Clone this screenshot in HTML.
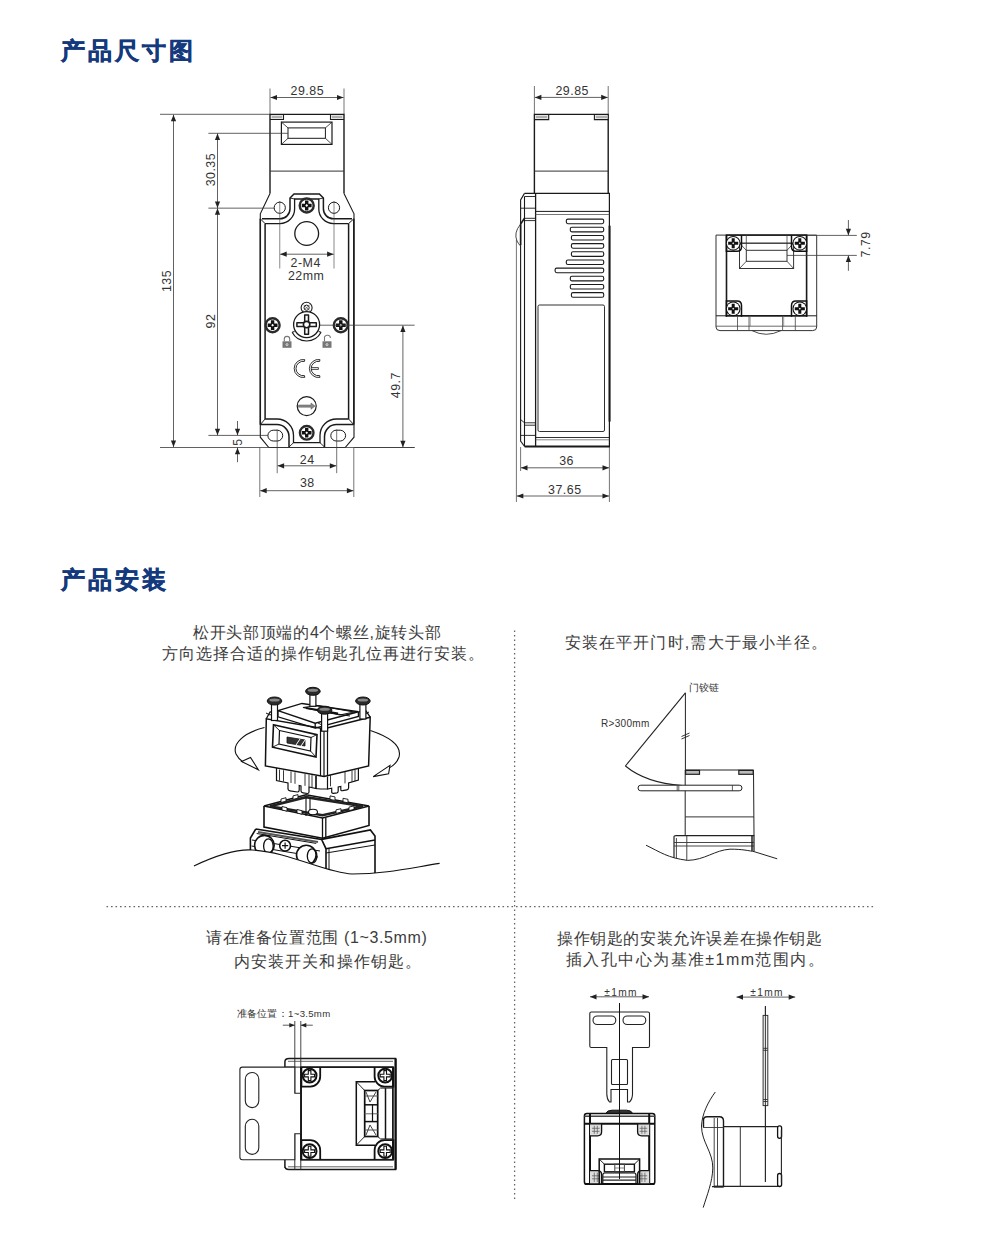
<!DOCTYPE html>
<html><head><meta charset="utf-8">
<style>
html,body{margin:0;padding:0;background:#fff;}
body{width:1000px;height:1236px;position:relative;overflow:hidden;font-family:"Liberation Sans",sans-serif;}
.h{position:absolute;left:61px;font-size:24px;font-weight:bold;color:#143a7d;-webkit-text-stroke:0.5px #143a7d;letter-spacing:3.1px;white-space:nowrap;line-height:1;}
.t{position:absolute;font-size:16px;color:#3c3c3c;letter-spacing:0.7px;white-space:nowrap;line-height:21px;}
svg{position:absolute;left:0;top:0;}
</style></head><body>
<div class="h" style="top:38.5px">产品尺寸图</div>
<div class="h" style="top:567.5px">产品安装</div>

<div class="t" style="left:193px;top:622px;letter-spacing:0.7px">松开头部顶端的4个螺丝,旋转头部</div>
<div class="t" style="left:162px;top:643px;letter-spacing:0.98px">方向选择合适的操作钥匙孔位再进行安装。</div>
<div class="t" style="left:564.5px;top:632px;letter-spacing:1.19px">安装在平开门时,需大于最小半径。</div>
<div class="t" style="left:206px;top:926.5px;letter-spacing:0.62px">请在准备位置范围 (1~3.5mm)</div>
<div class="t" style="left:234px;top:951px;letter-spacing:1.1px">内安装开关和操作钥匙。</div>
<div class="t" style="left:557px;top:927.5px;letter-spacing:0.6px">操作钥匙的安装允许误差在操作钥匙</div>
<div class="t" style="left:566px;top:949px;letter-spacing:1.42px">插入孔中心为基准±1mm范围内。</div>

<svg width="1000" height="1236" viewBox="0 0 1000 1236">
<defs>
<marker id="ar" viewBox="0 0 10 10" refX="10" refY="5" markerWidth="6" markerHeight="5" orient="auto-start-reverse" markerUnits="userSpaceOnUse"><path d="M0 0L10 5L0 10z" fill="#222"/></marker>
</defs>
<!-- dotted dividers -->
<g stroke="#666" stroke-width="1.3" stroke-dasharray="1.6 2.9" fill="none">
<line x1="106.5" y1="906.6" x2="875" y2="906.6"/>
<line x1="514.6" y1="630.5" x2="514.6" y2="1199"/>
</g>
<g font-family="Liberation Sans, sans-serif"><!--GEN-->
<path d="M270 193.5 V114.4 H344 V193.5" stroke="#1a1a1a" stroke-width="1.4" fill="none"/>
<line x1="270.00" y1="171.10" x2="344.00" y2="171.10" stroke="#333" stroke-width="1.0"/>
<path d="M270 119.5 H283.5 V114.4" stroke="#1a1a1a" stroke-width="1.1" fill="none"/>
<path d="M344 119.5 H330.5 V114.4" stroke="#1a1a1a" stroke-width="1.1" fill="none"/>
<rect x="271" y="115.2" width="11.8" height="3.6" fill="#ddd"/>
<rect x="331.2" y="115.2" width="11.8" height="3.6" fill="#ddd"/>
<line x1="272.00" y1="117.00" x2="282.00" y2="117.00" stroke="#444" stroke-width="0.6"/>
<line x1="332.00" y1="117.00" x2="342.00" y2="117.00" stroke="#444" stroke-width="0.6"/>
<rect x="281.40" y="122.10" width="50.60" height="22.30" rx="0" stroke="#1a1a1a" stroke-width="1.2" fill="none"/>
<rect x="288.00" y="127.90" width="37.40" height="10.40" rx="0" stroke="#1a1a1a" stroke-width="1.0" fill="none"/>
<line x1="281.40" y1="122.10" x2="288.00" y2="127.90" stroke="#222" stroke-width="0.8"/>
<line x1="332.00" y1="122.10" x2="325.40" y2="127.90" stroke="#222" stroke-width="0.8"/>
<line x1="281.40" y1="144.40" x2="288.00" y2="138.30" stroke="#222" stroke-width="0.8"/>
<line x1="332.00" y1="144.40" x2="325.40" y2="138.30" stroke="#222" stroke-width="0.8"/>
<path d="M270 193.5 L260.3 213.8 V437.2 L268.8 447.5 H345.2 L354 437.2 V213.8 L344 193.5" stroke="#1a1a1a" stroke-width="1.1" fill="none"/>
<path d="M262 218.8 H280 A10 10 0 0 0 290 208.8 V198 L294 194 H319.4 L323.4 198 V208.8 A10 10 0 0 0 333.4 218.8 H352" stroke="#1a1a1a" stroke-width="1.5" fill="none"/>
<path d="M265 223.6 H280 A14.6 14.6 0 0 0 294.6 209 V199 H318.8 V209 A14.6 14.6 0 0 0 333.4 223.6 H348.6" stroke="#1a1a1a" stroke-width="1.3" fill="none"/>
<path d="M260.3 218.8 V424.6" stroke="#1a1a1a" stroke-width="1.5" fill="none"/>
<path d="M265.1 223.6 V419" stroke="#1a1a1a" stroke-width="1.5" fill="none"/>
<path d="M353.8 218.8 V424.6" stroke="#1a1a1a" stroke-width="1.5" fill="none"/>
<path d="M348.6 223.6 V419" stroke="#1a1a1a" stroke-width="1.5" fill="none"/>
<line x1="260.30" y1="218.80" x2="265.10" y2="223.60" stroke="#1a1a1a" stroke-width="1.0"/>
<line x1="353.80" y1="218.80" x2="348.60" y2="223.60" stroke="#1a1a1a" stroke-width="1.0"/>
<line x1="290.00" y1="198.00" x2="294.60" y2="199.00" stroke="#1a1a1a" stroke-width="0.9"/>
<line x1="323.40" y1="198.00" x2="318.80" y2="199.00" stroke="#1a1a1a" stroke-width="0.9"/>
<path d="M260.3 424.6 H277 A12 12 0 0 1 289 436.6 V447.5" stroke="#1a1a1a" stroke-width="1.5" fill="none"/>
<path d="M265.1 419 H277 A16.5 16.5 0 0 1 293.5 435.5 V442.7 H320 V435.5 A16.5 16.5 0 0 1 336.5 419 H348.6" stroke="#1a1a1a" stroke-width="1.3" fill="none"/>
<path d="M353.8 424.6 H336.5 A12 12 0 0 0 324.5 436.6 V447.5" stroke="#1a1a1a" stroke-width="1.5" fill="none"/>
<line x1="260.30" y1="424.60" x2="265.10" y2="419.00" stroke="#1a1a1a" stroke-width="1.0"/>
<line x1="353.80" y1="424.60" x2="348.60" y2="419.00" stroke="#1a1a1a" stroke-width="1.0"/>
<line x1="289.00" y1="447.00" x2="293.50" y2="442.70" stroke="#1a1a1a" stroke-width="0.9"/>
<line x1="324.50" y1="447.00" x2="320.00" y2="442.70" stroke="#1a1a1a" stroke-width="0.9"/>
<circle cx="279.75" cy="207.75" r="5.60" stroke="#1a1a1a" stroke-width="1.0" fill="none"/>
<circle cx="334.00" cy="207.75" r="5.60" stroke="#1a1a1a" stroke-width="1.0" fill="none"/>
<rect x="267.9" y="430.2" width="14.8" height="10.8" rx="5.4" stroke="#1a1a1a" stroke-width="1.0" fill="none"/>
<rect x="330.8" y="430.2" width="14.8" height="10.8" rx="5.4" stroke="#1a1a1a" stroke-width="1.0" fill="none"/>
<circle cx="306.70" cy="205.50" r="7.00" stroke="#2a2a2a" stroke-width="2.4" fill="#fff"/>
<path d="M308.42 200.58 L308.42 203.78 L311.62 203.78 L311.62 207.22 L308.42 207.22 L308.42 210.42 L304.98 210.42 L304.98 207.22 L301.78 207.22 L301.78 203.78 L304.98 203.78 L304.98 200.58 Z" fill="#111"/>
<path d="M306.70 204.11 L308.09 205.50 L306.70 206.89 L305.31 205.50 Z" fill="#fff"/>
<circle cx="272.60" cy="325.20" r="7.00" stroke="#2a2a2a" stroke-width="2.4" fill="#fff"/>
<path d="M274.32 320.28 L274.32 323.48 L277.52 323.48 L277.52 326.92 L274.32 326.92 L274.32 330.12 L270.88 330.12 L270.88 326.92 L267.68 326.92 L267.68 323.48 L270.88 323.48 L270.88 320.28 Z" fill="#111"/>
<path d="M272.60 323.81 L273.99 325.20 L272.60 326.59 L271.21 325.20 Z" fill="#fff"/>
<circle cx="340.80" cy="325.20" r="7.00" stroke="#2a2a2a" stroke-width="2.4" fill="#fff"/>
<path d="M342.52 320.28 L342.52 323.48 L345.72 323.48 L345.72 326.92 L342.52 326.92 L342.52 330.12 L339.08 330.12 L339.08 326.92 L335.88 326.92 L335.88 323.48 L339.08 323.48 L339.08 320.28 Z" fill="#111"/>
<path d="M340.80 323.81 L342.19 325.20 L340.80 326.59 L339.41 325.20 Z" fill="#fff"/>
<circle cx="306.70" cy="432.80" r="6.80" stroke="#2a2a2a" stroke-width="2.4" fill="#fff"/>
<path d="M308.38 428.00 L308.38 431.12 L311.50 431.12 L311.50 434.48 L308.38 434.48 L308.38 437.60 L305.02 437.60 L305.02 434.48 L301.90 434.48 L301.90 431.12 L305.02 431.12 L305.02 428.00 Z" fill="#111"/>
<path d="M306.70 431.44 L308.06 432.80 L306.70 434.16 L305.34 432.80 Z" fill="#fff"/>
<circle cx="306.70" cy="233.50" r="11.90" stroke="#1a1a1a" stroke-width="1.3" fill="none"/>
<circle cx="306.60" cy="307.70" r="5.50" stroke="#1a1a1a" stroke-width="1.1" fill="none"/>
<circle cx="306.60" cy="307.70" r="2.60" stroke="#1a1a1a" stroke-width="1.0" fill="none"/>
<path d="M303.5 305 L309.7 310.4 M309.7 305 L303.5 310.4" stroke="#555" stroke-width="0.7" fill="none"/>
<path d="M321.08 332.30 A16.4 16.4 0 0 1 292.12 332.30" stroke="#1a1a1a" stroke-width="1.2" fill="none"/>
<path d="M292.12 332.30 L294.56 331.55 M321.08 332.30 L318.64 331.55" stroke="#1a1a1a" stroke-width="1.2" fill="none"/>
<circle cx="306.60" cy="324.60" r="13.00" stroke="#1a1a1a" stroke-width="1.3" fill="#fff"/>
<path d="M304.7 314.9 H308.5 V322.7 H316.3 V326.5 H308.5 V334.3 H304.7 V326.5 H296.9 V322.7 H304.7 Z" fill="#fff" stroke="#1a1a1a" stroke-width="1.5" stroke-linejoin="round"/>
<circle cx="306.60" cy="324.60" r="3.20" stroke="#1a1a1a" stroke-width="1.6" fill="#fff"/>
<rect x="282.5" y="341.3" width="9" height="6.5" fill="#777"/>
<path d="M284.3 341.3 V339.1 A2.7 2.7 0 0 1 289.7 339.1 V341.3" stroke="#777" stroke-width="1.1" fill="none"/>
<circle cx="287.00" cy="344.60" r="1.00" stroke="#fff" stroke-width="0.7" fill="#777"/>
<rect x="322.5" y="341.3" width="9" height="6.5" fill="#777"/>
<path d="M324.5 341.3 V338.8 A3 3 0 0 1 330.5 337.8" stroke="#777" stroke-width="1.1" fill="none"/>
<circle cx="327.00" cy="344.60" r="1.00" stroke="#fff" stroke-width="0.7" fill="#777"/>
<path d="M304.76 359.64 A9.00 9.00 0 1 0 304.76 377.36 L304.45 375.59 A7.20 7.20 0 1 1 304.45 361.41 Z" stroke="#1a1a1a" stroke-width="0.9" fill="none"/>
<path d="M319.96 359.64 A9.00 9.00 0 1 0 319.96 377.36 L319.65 375.59 A7.20 7.20 0 1 1 319.65 361.41 Z" stroke="#1a1a1a" stroke-width="0.9" fill="none"/>
<path d="M311.2 367.6 H318.4 V369.4 H311.2" stroke="#1a1a1a" stroke-width="0.8" fill="none"/>
<circle cx="306.70" cy="406.10" r="9.50" stroke="#1a1a1a" stroke-width="1.2" fill="none"/>
<path d="M298.5 405 H311 V403 L315 406.1 L311 409.2 V407.2 H298.5 Z" fill="#888" stroke="#555" stroke-width="0.5"/>
<line x1="270.00" y1="88.50" x2="270.00" y2="114.00" stroke="#3a3a3a" stroke-width="0.7"/>
<line x1="344.00" y1="88.50" x2="344.00" y2="114.00" stroke="#3a3a3a" stroke-width="0.7"/>
<line x1="270.50" y1="97.50" x2="343.50" y2="97.50" stroke="#3a3a3a" stroke-width="0.8"/>
<path d="M270.50 97.50 L277.00 94.90 L277.00 100.10 Z" fill="#222"/>
<path d="M343.50 97.50 L337.00 94.90 L337.00 100.10 Z" fill="#222"/>
<text x="307.30" y="95.20" font-size="12.4" fill="#333" text-anchor="middle" letter-spacing="0.5">29.85</text>
<line x1="160.00" y1="114.30" x2="270.00" y2="114.30" stroke="#3a3a3a" stroke-width="0.8"/>
<line x1="160.00" y1="447.50" x2="414.60" y2="447.50" stroke="#3a3a3a" stroke-width="0.8"/>
<line x1="173.50" y1="114.80" x2="173.50" y2="447.00" stroke="#3a3a3a" stroke-width="0.8"/>
<path d="M173.50 114.80 L170.90 121.30 L176.10 121.30 Z" fill="#222"/>
<path d="M173.50 447.00 L170.90 440.50 L176.10 440.50 Z" fill="#222"/>
<text x="171.20" y="281.00" font-size="12.4" fill="#333" text-anchor="middle" transform="rotate(-90 171.20 281.00)" letter-spacing="0.5">135</text>
<line x1="208.40" y1="133.30" x2="288.00" y2="133.30" stroke="#3a3a3a" stroke-width="0.8"/>
<line x1="208.40" y1="208.15" x2="274.00" y2="208.15" stroke="#3a3a3a" stroke-width="0.8"/>
<line x1="217.50" y1="133.50" x2="217.50" y2="208.00" stroke="#3a3a3a" stroke-width="0.8"/>
<path d="M217.50 133.50 L214.90 140.00 L220.10 140.00 Z" fill="#222"/>
<path d="M217.50 208.00 L214.90 201.50 L220.10 201.50 Z" fill="#222"/>
<text x="215.10" y="169.60" font-size="12.4" fill="#333" text-anchor="middle" transform="rotate(-90 215.10 169.60)" letter-spacing="0.5">30.35</text>
<line x1="217.50" y1="208.30" x2="217.50" y2="435.20" stroke="#3a3a3a" stroke-width="0.8"/>
<path d="M217.50 208.30 L214.90 214.80 L220.10 214.80 Z" fill="#222"/>
<path d="M217.50 435.20 L214.90 428.70 L220.10 428.70 Z" fill="#222"/>
<text x="215.10" y="321.00" font-size="12.4" fill="#333" text-anchor="middle" transform="rotate(-90 215.10 321.00)" letter-spacing="0.5">92</text>
<line x1="208.40" y1="435.40" x2="268.00" y2="435.40" stroke="#3a3a3a" stroke-width="0.8"/>
<line x1="237.50" y1="421.00" x2="237.50" y2="435.20" stroke="#3a3a3a" stroke-width="0.8"/>
<path d="M237.50 435.20 L234.90 428.70 L240.10 428.70 Z" fill="#222"/>
<line x1="237.50" y1="447.70" x2="237.50" y2="462.20" stroke="#3a3a3a" stroke-width="0.8"/>
<path d="M237.50 447.70 L234.90 454.20 L240.10 454.20 Z" fill="#222"/>
<text x="242.40" y="442.00" font-size="12.4" fill="#333" text-anchor="middle" transform="rotate(-90 242.40 442.00)" letter-spacing="0.5">5</text>
<line x1="279.75" y1="201.00" x2="279.75" y2="268.50" stroke="#3a3a3a" stroke-width="0.6"/>
<line x1="334.00" y1="201.00" x2="334.00" y2="268.50" stroke="#3a3a3a" stroke-width="0.6"/>
<line x1="280.20" y1="254.20" x2="333.60" y2="254.20" stroke="#3a3a3a" stroke-width="0.8"/>
<path d="M280.20 254.20 L286.70 251.60 L286.70 256.80 Z" fill="#222"/>
<path d="M333.60 254.20 L327.10 251.60 L327.10 256.80 Z" fill="#222"/>
<text x="305.70" y="267.20" font-size="12.4" fill="#333" text-anchor="middle" letter-spacing="0.5">2-M4</text>
<text x="306.20" y="280.20" font-size="12.4" fill="#333" text-anchor="middle" letter-spacing="0.5">22mm</text>
<line x1="320.00" y1="325.20" x2="414.60" y2="325.20" stroke="#3a3a3a" stroke-width="0.8"/>
<line x1="354.00" y1="447.50" x2="414.60" y2="447.50" stroke="#3a3a3a" stroke-width="0.8"/>
<line x1="402.90" y1="325.60" x2="402.90" y2="447.20" stroke="#3a3a3a" stroke-width="0.8"/>
<path d="M402.90 325.60 L400.30 332.10 L405.50 332.10 Z" fill="#222"/>
<path d="M402.90 447.20 L400.30 440.70 L405.50 440.70 Z" fill="#222"/>
<text x="400.30" y="385.20" font-size="12.4" fill="#333" text-anchor="middle" transform="rotate(-90 400.30 385.20)" letter-spacing="0.5">49.7</text>
<line x1="277.20" y1="429.50" x2="277.20" y2="473.20" stroke="#3a3a3a" stroke-width="0.7"/>
<line x1="336.70" y1="429.50" x2="336.70" y2="473.20" stroke="#3a3a3a" stroke-width="0.7"/>
<line x1="277.60" y1="465.80" x2="336.30" y2="465.80" stroke="#3a3a3a" stroke-width="0.8"/>
<path d="M277.60 465.80 L284.10 463.20 L284.10 468.40 Z" fill="#222"/>
<path d="M336.30 465.80 L329.80 463.20 L329.80 468.40 Z" fill="#222"/>
<text x="307.20" y="463.90" font-size="12.4" fill="#333" text-anchor="middle" letter-spacing="0.5">24</text>
<line x1="259.80" y1="447.50" x2="259.80" y2="497.00" stroke="#3a3a3a" stroke-width="0.7"/>
<line x1="353.80" y1="447.50" x2="353.80" y2="497.00" stroke="#3a3a3a" stroke-width="0.7"/>
<line x1="260.20" y1="490.70" x2="353.40" y2="490.70" stroke="#3a3a3a" stroke-width="0.8"/>
<path d="M260.20 490.70 L266.70 488.10 L266.70 493.30 Z" fill="#222"/>
<path d="M353.40 490.70 L346.90 488.10 L346.90 493.30 Z" fill="#222"/>
<text x="307.30" y="487.00" font-size="12.4" fill="#333" text-anchor="middle" letter-spacing="0.5">38</text>
<path d="M534.4 193.3 V114.4 H608.2 V193.3" stroke="#1a1a1a" stroke-width="1.4" fill="none"/>
<line x1="534.40" y1="171.10" x2="608.20" y2="171.10" stroke="#333" stroke-width="1.0"/>
<path d="M534.4 119.6 H548.7 V114.4" stroke="#1a1a1a" stroke-width="1.1" fill="none"/>
<path d="M608.2 119.6 H594.4 V114.4" stroke="#1a1a1a" stroke-width="1.1" fill="none"/>
<rect x="535.3" y="115.2" width="12.6" height="3.6" fill="#ddd"/>
<rect x="595.2" y="115.2" width="12.2" height="3.6" fill="#ddd"/>
<line x1="536.00" y1="117.00" x2="547.00" y2="117.00" stroke="#444" stroke-width="0.6"/>
<line x1="596.00" y1="117.00" x2="607.00" y2="117.00" stroke="#444" stroke-width="0.6"/>
<path d="M524.5 193.4 H609.4 V446.8 H524.6" stroke="#1a1a1a" stroke-width="1.2" fill="none"/>
<line x1="535.60" y1="193.40" x2="535.60" y2="446.80" stroke="#1a1a1a" stroke-width="1.3"/>
<line x1="609.60" y1="225.70" x2="609.60" y2="421.60" stroke="#1a1a1a" stroke-width="2.0"/>
<line x1="535.60" y1="211.40" x2="609.40" y2="211.40" stroke="#1a1a1a" stroke-width="1.0"/>
<line x1="535.60" y1="214.50" x2="609.40" y2="214.50" stroke="#555" stroke-width="0.8"/>
<rect x="566.30" y="219.10" width="37.40" height="4.60" rx="1.6" stroke="#1a1a1a" stroke-width="1.1" fill="none"/>
<rect x="570.30" y="227.27" width="33.40" height="4.60" rx="1.6" stroke="#1a1a1a" stroke-width="1.1" fill="none"/>
<rect x="571.40" y="235.44" width="32.30" height="4.60" rx="1.6" stroke="#1a1a1a" stroke-width="1.1" fill="none"/>
<rect x="571.40" y="243.61" width="32.30" height="4.60" rx="1.6" stroke="#1a1a1a" stroke-width="1.1" fill="none"/>
<rect x="571.40" y="251.78" width="32.30" height="4.60" rx="1.6" stroke="#1a1a1a" stroke-width="1.1" fill="none"/>
<rect x="566.30" y="259.95" width="37.40" height="4.60" rx="1.6" stroke="#1a1a1a" stroke-width="1.1" fill="none"/>
<rect x="555.10" y="268.12" width="48.60" height="4.60" rx="1.6" stroke="#1a1a1a" stroke-width="1.1" fill="none"/>
<rect x="570.30" y="276.29" width="33.40" height="4.60" rx="1.6" stroke="#1a1a1a" stroke-width="1.1" fill="none"/>
<rect x="570.30" y="284.46" width="33.40" height="4.60" rx="1.6" stroke="#1a1a1a" stroke-width="1.1" fill="none"/>
<rect x="571.40" y="292.63" width="32.30" height="4.60" rx="1.6" stroke="#1a1a1a" stroke-width="1.1" fill="none"/>
<rect x="538.00" y="305.00" width="66.50" height="126.50" rx="1.5" stroke="#1a1a1a" stroke-width="0.9" fill="none"/>
<line x1="535.60" y1="437.50" x2="609.40" y2="437.50" stroke="#1a1a1a" stroke-width="0.9"/>
<line x1="535.60" y1="439.80" x2="609.40" y2="439.80" stroke="#555" stroke-width="0.7"/>
<line x1="524.60" y1="446.30" x2="609.40" y2="446.30" stroke="#1a1a1a" stroke-width="1.6"/>
<path d="M524.5 193.4 L520.6 199.9 V441 L524.6 446.5" stroke="#1a1a1a" stroke-width="1.1" fill="none"/>
<line x1="524.50" y1="196.50" x2="524.50" y2="446.00" stroke="#1a1a1a" stroke-width="1.1"/>
<line x1="524.50" y1="196.50" x2="535.60" y2="196.50" stroke="#1a1a1a" stroke-width="0.9"/>
<line x1="520.60" y1="208.20" x2="535.60" y2="208.20" stroke="#1a1a1a" stroke-width="0.9"/>
<line x1="524.50" y1="218.30" x2="535.60" y2="218.30" stroke="#1a1a1a" stroke-width="0.9"/>
<line x1="524.50" y1="220.60" x2="535.60" y2="220.60" stroke="#1a1a1a" stroke-width="0.9"/>
<line x1="524.50" y1="422.80" x2="535.60" y2="422.80" stroke="#1a1a1a" stroke-width="0.9"/>
<line x1="524.50" y1="425.20" x2="535.60" y2="425.20" stroke="#1a1a1a" stroke-width="0.9"/>
<line x1="520.60" y1="435.40" x2="535.60" y2="435.40" stroke="#1a1a1a" stroke-width="0.9"/>
<path d="M524.5 218.3 L520.6 224 V245" stroke="#1a1a1a" stroke-width="1.6" fill="none"/>
<path d="M520.3 224.5 Q513.5 233 517 241 Q518.5 244 520.6 246" stroke="#333" stroke-width="0.9" fill="none"/>
<line x1="516.40" y1="240.00" x2="516.40" y2="502.00" stroke="#3a3a3a" stroke-width="0.7"/>
<path d="M520.6 419.5 L524.5 422.8" stroke="#1a1a1a" stroke-width="0.9" fill="none"/>
<line x1="534.40" y1="86.00" x2="534.40" y2="114.00" stroke="#3a3a3a" stroke-width="0.7"/>
<line x1="608.20" y1="86.00" x2="608.20" y2="114.00" stroke="#3a3a3a" stroke-width="0.7"/>
<line x1="534.90" y1="97.40" x2="607.70" y2="97.40" stroke="#3a3a3a" stroke-width="0.8"/>
<path d="M534.90 97.40 L541.40 94.80 L541.40 100.00 Z" fill="#222"/>
<path d="M607.70 97.40 L601.20 94.80 L601.20 100.00 Z" fill="#222"/>
<text x="572.20" y="95.00" font-size="12.4" fill="#333" text-anchor="middle" letter-spacing="0.5">29.85</text>
<line x1="520.60" y1="447.00" x2="520.60" y2="471.00" stroke="#3a3a3a" stroke-width="0.7"/>
<line x1="609.40" y1="447.00" x2="609.40" y2="502.00" stroke="#3a3a3a" stroke-width="0.7"/>
<line x1="521.00" y1="467.80" x2="609.00" y2="467.80" stroke="#3a3a3a" stroke-width="0.8"/>
<path d="M521.00 467.80 L527.50 465.20 L527.50 470.40 Z" fill="#222"/>
<path d="M609.00 467.80 L602.50 465.20 L602.50 470.40 Z" fill="#222"/>
<text x="566.60" y="465.20" font-size="12.4" fill="#333" text-anchor="middle" letter-spacing="0.5">36</text>
<line x1="516.80" y1="496.00" x2="609.00" y2="496.00" stroke="#3a3a3a" stroke-width="0.8"/>
<path d="M516.80 496.00 L523.30 493.40 L523.30 498.60 Z" fill="#222"/>
<path d="M609.00 496.00 L602.50 493.40 L602.50 498.60 Z" fill="#222"/>
<text x="564.80" y="493.80" font-size="12.4" fill="#333" text-anchor="middle" letter-spacing="0.5">37.65</text>
<path d="M716 235.1 V327 Q716 330.6 720 330.6 H812.7 Q816.7 330.6 816.7 327 V235.1 Z" stroke="#333" stroke-width="1.0" fill="none"/>
<rect x="726.50" y="235.10" width="80.10" height="80.70" rx="0" stroke="#1a1a1a" stroke-width="1.6" fill="none"/>
<line x1="716.00" y1="315.80" x2="816.70" y2="315.80" stroke="#1a1a1a" stroke-width="1.0"/>
<line x1="716.00" y1="326.20" x2="816.70" y2="326.20" stroke="#444" stroke-width="0.8"/>
<line x1="737.50" y1="315.80" x2="737.50" y2="330.60" stroke="#444" stroke-width="0.8"/>
<line x1="749.00" y1="315.80" x2="749.00" y2="330.60" stroke="#444" stroke-width="0.8"/>
<line x1="782.60" y1="315.80" x2="782.60" y2="330.60" stroke="#444" stroke-width="0.8"/>
<line x1="795.30" y1="315.80" x2="795.30" y2="330.60" stroke="#444" stroke-width="0.8"/>
<line x1="750.20" y1="315.80" x2="750.20" y2="326.20" stroke="#666" stroke-width="0.6"/>
<line x1="783.70" y1="315.80" x2="783.70" y2="326.20" stroke="#666" stroke-width="0.6"/>
<path d="M752 330.6 Q766 338 781 330.6" stroke="#333" stroke-width="0.9" fill="none"/>
<line x1="746.30" y1="235.10" x2="746.30" y2="250.30" stroke="#444" stroke-width="0.8"/>
<line x1="787.00" y1="235.10" x2="787.00" y2="250.30" stroke="#444" stroke-width="0.8"/>
<line x1="739.50" y1="243.20" x2="793.60" y2="243.20" stroke="#333" stroke-width="0.9"/>
<rect x="739.50" y="243.20" width="54.10" height="25.30" rx="0" stroke="#333" stroke-width="1.0" fill="none"/>
<rect x="746.30" y="250.30" width="40.70" height="11.00" rx="0" stroke="#333" stroke-width="1.0" fill="none"/>
<line x1="739.50" y1="243.20" x2="746.30" y2="250.30" stroke="#333" stroke-width="0.8"/>
<line x1="793.60" y1="243.20" x2="787.00" y2="250.30" stroke="#333" stroke-width="0.8"/>
<line x1="739.50" y1="268.50" x2="746.30" y2="261.30" stroke="#333" stroke-width="0.8"/>
<line x1="793.60" y1="268.50" x2="787.00" y2="261.30" stroke="#333" stroke-width="0.8"/>
<path d="M726.4 235.3 V251.2 H737.0 Q741.5 251.2 741.5 246.7 V235.3" fill="none" stroke="#111" stroke-width="1.5"/>
<circle cx="733.2" cy="243.3" r="6.5" fill="#fff" stroke="#111" stroke-width="1.7"/>
<circle cx="733.20" cy="243.30" r="6.29" stroke="#2a2a2a" stroke-width="0.01" fill="#fff"/>
<path d="M734.71 238.26 L734.71 241.79 L738.24 241.79 L738.24 244.81 L734.71 244.81 L734.71 248.34 L731.69 248.34 L731.69 244.81 L728.16 244.81 L728.16 241.79 L731.69 241.79 L731.69 238.26 Z" fill="#111"/>
<path d="M733.20 242.23 L734.27 243.30 L733.20 244.37 L732.13 243.30 Z" fill="#fff"/>
<path d="M806.6 235.3 V251.2 H796.0 Q791.5 251.2 791.5 246.7 V235.3" fill="none" stroke="#111" stroke-width="1.5"/>
<circle cx="799.8" cy="243.3" r="6.5" fill="#fff" stroke="#111" stroke-width="1.7"/>
<circle cx="799.80" cy="243.30" r="6.29" stroke="#2a2a2a" stroke-width="0.01" fill="#fff"/>
<path d="M801.31 238.26 L801.31 241.79 L804.84 241.79 L804.84 244.81 L801.31 244.81 L801.31 248.34 L798.29 248.34 L798.29 244.81 L794.76 244.81 L794.76 241.79 L798.29 241.79 L798.29 238.26 Z" fill="#111"/>
<path d="M799.80 242.23 L800.87 243.30 L799.80 244.37 L798.73 243.30 Z" fill="#fff"/>
<path d="M726.4 316.8 V300.9 H737.0 Q741.5 300.9 741.5 305.4 V316.8" fill="none" stroke="#111" stroke-width="1.5"/>
<circle cx="733.2" cy="308.8" r="6.5" fill="#fff" stroke="#111" stroke-width="1.7"/>
<circle cx="733.20" cy="308.80" r="6.29" stroke="#2a2a2a" stroke-width="0.01" fill="#fff"/>
<path d="M734.71 303.76 L734.71 307.29 L738.24 307.29 L738.24 310.31 L734.71 310.31 L734.71 313.84 L731.69 313.84 L731.69 310.31 L728.16 310.31 L728.16 307.29 L731.69 307.29 L731.69 303.76 Z" fill="#111"/>
<path d="M733.20 307.73 L734.27 308.80 L733.20 309.87 L732.13 308.80 Z" fill="#fff"/>
<path d="M806.6 316.8 V300.9 H796.0 Q791.5 300.9 791.5 305.4 V316.8" fill="none" stroke="#111" stroke-width="1.5"/>
<circle cx="799.8" cy="308.8" r="6.5" fill="#fff" stroke="#111" stroke-width="1.7"/>
<circle cx="799.80" cy="308.80" r="6.29" stroke="#2a2a2a" stroke-width="0.01" fill="#fff"/>
<path d="M801.31 303.76 L801.31 307.29 L804.84 307.29 L804.84 310.31 L801.31 310.31 L801.31 313.84 L798.29 313.84 L798.29 310.31 L794.76 310.31 L794.76 307.29 L798.29 307.29 L798.29 303.76 Z" fill="#111"/>
<path d="M799.80 307.73 L800.87 308.80 L799.80 309.87 L798.73 308.80 Z" fill="#fff"/>
<line x1="806.60" y1="235.40" x2="856.80" y2="235.40" stroke="#3a3a3a" stroke-width="0.8"/>
<line x1="787.00" y1="255.40" x2="856.80" y2="255.40" stroke="#3a3a3a" stroke-width="0.8"/>
<line x1="848.40" y1="220.00" x2="848.40" y2="235.20" stroke="#3a3a3a" stroke-width="0.8"/>
<path d="M848.40 235.20 L845.80 228.70 L851.00 228.70 Z" fill="#222"/>
<line x1="848.40" y1="255.60" x2="848.40" y2="270.80" stroke="#3a3a3a" stroke-width="0.8"/>
<path d="M848.40 255.60 L845.80 262.10 L851.00 262.10 Z" fill="#222"/>
<text x="869.60" y="244.40" font-size="12.4" fill="#333" text-anchor="middle" transform="rotate(-90 869.60 244.40)" letter-spacing="0.5">7.79</text>
<path d="M264.5 727.5 C243 733 232 744 236 754 C238 758 240 760 243 762" stroke="#111" stroke-width="1.1" fill="none"/>
<path d="M241.6 761.5 L258.4 769.8 L250.5 757.5 Z" stroke="#111" stroke-width="1.1" fill="#fff"/>
<path d="M370.4 730.4 C390 737 402 746 399 757 C397 763 392 767 386 769.5" stroke="#111" stroke-width="1.1" fill="none"/>
<path d="M373.2 776.6 L390 765.4 L388.6 773.8 Z" stroke="#111" stroke-width="1.1" fill="#fff"/>
<path d="M276.5 768 V780.5 L288 783 V789 Q288 790.5 290 790.8 L297.5 792 Q299.2 792 299.2 790 V785.5 L301 786 V791 Q301 792.5 303 792.8 L307.5 793.5 Q309 793.5 309 792 V787 L316 788.5 V776" stroke="#111" stroke-width="1.2" fill="#fff"/>
<path d="M327.5 776.5 V789 L331.7 788.2 V792 Q331.7 793.5 333.5 793.3 L337 792.8 Q338.2 792.5 338.2 791 V787 L340.8 786.4 V789.5 Q340.8 791 342.5 790.7 L347 789.8 Q348.6 789.5 348.6 788 V783 L358.4 780 V768.5" stroke="#111" stroke-width="1.2" fill="#fff"/>
<path d="M316 776 V788.5 L320.5 789 H327.5" stroke="#111" stroke-width="1.2" fill="none"/>
<line x1="279.50" y1="769.60" x2="279.50" y2="780.70" stroke="#222" stroke-width="0.9"/>
<line x1="283.50" y1="770.27" x2="283.50" y2="781.50" stroke="#222" stroke-width="0.9"/>
<line x1="291.00" y1="771.55" x2="291.00" y2="783.00" stroke="#222" stroke-width="0.9"/>
<line x1="295.00" y1="772.23" x2="295.00" y2="783.80" stroke="#222" stroke-width="0.9"/>
<line x1="305.00" y1="773.93" x2="305.00" y2="785.80" stroke="#222" stroke-width="0.9"/>
<line x1="309.00" y1="774.61" x2="309.00" y2="786.60" stroke="#222" stroke-width="0.9"/>
<line x1="312.00" y1="775.12" x2="312.00" y2="787.20" stroke="#222" stroke-width="0.9"/>
<line x1="330.50" y1="775.23" x2="330.50" y2="786.30" stroke="#222" stroke-width="0.9"/>
<line x1="345.00" y1="772.04" x2="345.00" y2="783.40" stroke="#222" stroke-width="0.9"/>
<line x1="352.00" y1="770.50" x2="352.00" y2="782.00" stroke="#222" stroke-width="0.9"/>
<line x1="355.00" y1="769.84" x2="355.00" y2="781.40" stroke="#222" stroke-width="0.9"/>
<path d="M266.3 718.8 L265.4 765.9 L324 776.6 L368.6 765.9 L370.2 717.2 L324 728.7 Z" stroke="#111" stroke-width="1.5" fill="#fff"/>
<path d="M324 728.7 V776.6 M320.5 728 V776 M327.5 728 V776" stroke="#111" stroke-width="1.2" fill="none"/>
<path d="M266.3 718.8 L270 712 L278 710.6 M370.2 717.2 L366 711 L358.4 711.8" stroke="#111" stroke-width="1.3" fill="none"/>
<path d="M278 710.6 L302 703.4 L358.4 711.8 L315.2 723.2 Z" stroke="#111" stroke-width="1.5" fill="#fff"/>
<path d="M278 710.6 V716.8 L315.2 728.2 V723.2 M315.2 728.2 L358.4 716.5 V711.8" stroke="#111" stroke-width="1.3" fill="none"/>
<path d="M303 707.5 L318 705.5 L354 712 L340 715 Z" stroke="#111" stroke-width="1.1" fill="none"/>
<path d="M306 708 L338 713.5" stroke="#111" stroke-width="2.2" fill="none"/>
<path d="M318 711 L350 716" stroke="#111" stroke-width="1.0" fill="none"/>
<path d="M273.5 724.8 L317 734.6 L316 757 L272.5 747.2 Z" stroke="#111" stroke-width="1.6" fill="#fff"/>
<path d="M279.5 730.5 L311 737.5 L310.5 751 L279 744 Z" stroke="#111" stroke-width="1.2" fill="none"/>
<path d="M273.5 724.8 L279.5 730.5 M317 734.6 L311 737.5 M272.5 747.2 L279 744 M316 757 L310.5 751" stroke="#111" stroke-width="0.9" fill="none"/>
<path d="M287 737 L305 740 V746 L287 743 Z" stroke="#111" stroke-width="0.8" fill="#333"/>
<path d="M296 745 L300 739 M301 746 L305 740" stroke="#fff" stroke-width="1.0" fill="none"/>
<path d="M266.0 713.0 l4 2 l4 -2" stroke="#111" stroke-width="1.0" fill="none"/>
<path d="M361.0 712.0 l4 2 l4 -2" stroke="#111" stroke-width="1.0" fill="none"/>
<path d="M318.0 723.0 l4 2 l4 -2" stroke="#111" stroke-width="1.0" fill="none"/>
<rect x="309.9" y="693.3" width="6" height="13.0" fill="#fff" stroke="#111" stroke-width="1.2"/>
<ellipse cx="312.9" cy="691.3" rx="7.3" ry="4" fill="#2a2a2a" stroke="#111" stroke-width="1"/>
<ellipse cx="312.9" cy="690.3" rx="5.2" ry="1.5" fill="#888"/>
<rect x="271.5" y="703.0" width="6" height="17.5" fill="#fff" stroke="#111" stroke-width="1.2"/>
<ellipse cx="274.5" cy="701.0" rx="7.3" ry="4" fill="#2a2a2a" stroke="#111" stroke-width="1"/>
<ellipse cx="274.5" cy="700.0" rx="5.2" ry="1.5" fill="#888"/>
<rect x="359.9" y="703.0" width="6" height="16.0" fill="#fff" stroke="#111" stroke-width="1.2"/>
<ellipse cx="362.9" cy="701.0" rx="7.3" ry="4" fill="#2a2a2a" stroke="#111" stroke-width="1"/>
<ellipse cx="362.9" cy="700.0" rx="5.2" ry="1.5" fill="#888"/>
<rect x="321.6" y="712.2" width="6" height="19.0" fill="#fff" stroke="#111" stroke-width="1.2"/>
<ellipse cx="324.6" cy="710.2" rx="7.3" ry="4" fill="#2a2a2a" stroke="#111" stroke-width="1"/>
<ellipse cx="324.6" cy="709.2" rx="5.2" ry="1.5" fill="#888"/>
<path d="M255.8 829 L250.4 838 V866 M255.8 829 L321.6 839.4 L326 848.8 V876 M321.6 839.4 L370.4 830 L375 836 V876 M326 848.8 L375 840" stroke="#111" stroke-width="1.6" fill="none"/>
<path d="M256.7 833.5 L316.2 843.4 M252 840 L320 851 M251.5 846 L318 857" stroke="#111" stroke-width="1.0" fill="none"/>
<path d="M258 832 L318 842" stroke="#555" stroke-width="2.2" fill="none"/>
<path d="M329 849 V876 M326 853 L375 845" stroke="#111" stroke-width="1.0" fill="none"/>
<circle cx="264.4" cy="845.2" r="9.8" stroke="#111" stroke-width="1.6" fill="#fff"/>
<ellipse cx="268.4" cy="846.0" rx="4.8" ry="7.2" stroke="#111" stroke-width="1.3" fill="none"/>
<circle cx="306.3" cy="855.1" r="9.8" stroke="#111" stroke-width="1.6" fill="#fff"/>
<ellipse cx="312.1" cy="856.0" rx="4.8" ry="7.2" stroke="#111" stroke-width="1.3" fill="none"/>
<circle cx="285.1" cy="845.7" r="5.4" stroke="#111" stroke-width="1.6" fill="#fff"/>
<path d="M282 845.7 H288.2 M285.1 842.6 V848.8" stroke="#111" stroke-width="1.2" fill="none"/>
<path d="M264 806 V827 L322.5 838.2 L369 825.5 V806" stroke="#111" stroke-width="1.6" fill="#fff"/>
<path d="M322.5 818 V838.2 M325.8 817.5 V837.5" stroke="#111" stroke-width="1.3" fill="none"/>
<path d="M264 806 L306 794.7 L369 806 L322.5 818 Z" stroke="#111" stroke-width="1.6" fill="#fff"/>
<path d="M270 806.3 L306 797.2 L363 806.3 L322.5 815.2 Z" stroke="#222" stroke-width="2.6" fill="none"/>
<path d="M281.0 802.5 l5.0 -1.3 v-3.5 l-5.0 1.3 z" fill="#fff" stroke="#111" stroke-width="0.9"/>
<path d="M293.0 799.4 l5.0 -1.3 v-3.5 l-5.0 1.3 z" fill="#fff" stroke="#111" stroke-width="0.9"/>
<path d="M330.0 799.4 l5.0 1.0 v-3.5 l-5.0 -1.0 z" fill="#fff" stroke="#111" stroke-width="0.9"/>
<path d="M343.0 801.8 l5.0 1.0 v-3.5 l-5.0 -1.0 z" fill="#fff" stroke="#111" stroke-width="0.9"/>
<path d="M282.0 810.0 l5.0 1.2 v-3.5 l-5.0 -1.2 z" fill="#fff" stroke="#111" stroke-width="0.9"/>
<path d="M297.0 813.0 l5.0 1.2 v-3.5 l-5.0 -1.2 z" fill="#fff" stroke="#111" stroke-width="0.9"/>
<path d="M336.0 813.4 l5.0 -1.2 v-3.5 l-5.0 1.2 z" fill="#fff" stroke="#111" stroke-width="0.9"/>
<path d="M349.0 810.6 l5.0 -1.2 v-3.5 l-5.0 1.2 z" fill="#fff" stroke="#111" stroke-width="0.9"/>
<path d="M306 797.2 V816 M310 797.8 V815.5" stroke="#111" stroke-width="1.1" fill="none"/>
<ellipse cx="313" cy="812" rx="4.5" ry="2.8" fill="#fff" stroke="#111" stroke-width="1.1"/>
<path d="M193.9 866 C215 856 235 849 252 850 C290 852 325 873 352 874 C385 874 410 868 439.6 863.4 V890 H193.9 Z" stroke="none" stroke-width="0" fill="#fff"/>
<path d="M193.9 866 C215 856 235 849 252 850 C290 852 325 873 352 874 C385 874 410 868 439.6 863.4" stroke="#111" stroke-width="1.1" fill="none"/>
<text x="601.00" y="727.20" font-size="10" fill="#333" text-anchor="start" letter-spacing="0.3">R&gt;300mm</text>
<text x="688.6" y="690.6" font-size="10" fill="#333" letter-spacing="0.3">门铰链</text>
<line x1="685.40" y1="692.80" x2="685.40" y2="770.00" stroke="#222" stroke-width="1.0"/>
<path d="M681.5 736.5 L689.5 733 M681.5 739 L689.5 735.5" stroke="#222" stroke-width="0.9" fill="none"/>
<line x1="685.40" y1="692.80" x2="625.40" y2="766.00" stroke="#222" stroke-width="1.1"/>
<path d="M625.4 766 C640 778 660 784 682 785.5" stroke="#222" stroke-width="1.1" fill="none"/>
<path d="M685.2 835.6 L685.2 770 H753.5 L754 835.6" stroke="#222" stroke-width="1.0" fill="none"/>
<rect x="685.60" y="770.40" width="13.90" height="3.90" rx="0" stroke="#222" stroke-width="1.2" fill="#bbb"/>
<rect x="738.80" y="770.40" width="14.40" height="3.90" rx="0" stroke="#222" stroke-width="1.2" fill="#bbb"/>
<line x1="685.20" y1="816.90" x2="754.00" y2="816.90" stroke="#333" stroke-width="1.0"/>
<rect x="638" y="785.2" width="104" height="5.6" rx="2.8" fill="#fff" stroke="#222" stroke-width="1"/>
<line x1="677.20" y1="785.20" x2="677.20" y2="790.80" stroke="#333" stroke-width="0.8"/>
<line x1="678.80" y1="785.20" x2="678.80" y2="790.80" stroke="#333" stroke-width="0.8"/>
<line x1="732.40" y1="785.20" x2="732.40" y2="790.80" stroke="#333" stroke-width="0.8"/>
<path d="M674 860 V836.5 Q674 835.6 676 835.6 H754 V851.6" stroke="#222" stroke-width="1.2" fill="none"/>
<line x1="676.40" y1="838.00" x2="676.40" y2="860.00" stroke="#333" stroke-width="0.9"/>
<line x1="686.80" y1="835.60" x2="686.80" y2="861.00" stroke="#333" stroke-width="0.9"/>
<line x1="674.00" y1="842.50" x2="754.00" y2="842.50" stroke="#333" stroke-width="0.9"/>
<line x1="674.00" y1="846.00" x2="754.00" y2="846.00" stroke="#333" stroke-width="0.9"/>
<line x1="752.00" y1="836.00" x2="752.00" y2="851.00" stroke="#222" stroke-width="1.5"/>
<path d="M646 845.2 C660 852 668 858 687.6 860.4 C705 860 715 850 730 849.2 C742 849 750 851 754 851.6 L777.2 858.8" stroke="none" stroke-width="0" fill="none"/>
<path d="M646 845.2 C660 852 668 858 687.6 860.4 C705 860 715 850 730 849.2 C742 849 750 851 754 851.6 L777.2 858.8 V870 H646 Z" fill="#fff"/>
<path d="M646 845.2 C660 852 668 858 687.6 860.4 C705 860 715 850 730 849.2 C742 849 750 851 754 851.6 L777.2 858.8" stroke="#222" stroke-width="1.0" fill="none"/>
<text x="236.6" y="1016.6" font-size="9.6" fill="#333" letter-spacing="0.3">准备位置：1~3.5mm</text>
<line x1="294.80" y1="1021.00" x2="294.80" y2="1160.00" stroke="#333" stroke-width="0.9"/>
<line x1="300.80" y1="1021.00" x2="300.80" y2="1062.00" stroke="#333" stroke-width="0.9"/>
<line x1="282.80" y1="1025.20" x2="294.80" y2="1025.20" stroke="#333" stroke-width="0.8"/>
<path d="M294.80 1025.20 L289.30 1023.00 L289.30 1027.40 Z" fill="#222"/>
<line x1="300.80" y1="1025.20" x2="312.80" y2="1025.20" stroke="#333" stroke-width="0.8"/>
<path d="M300.80 1025.20 L306.30 1023.00 L306.30 1027.40 Z" fill="#222"/>
<path d="M284.9 1168 V1062 Q284.9 1058.6 289 1058.6 H395.6 V1169.5 H289 Q284.9 1169.5 284.9 1166" stroke="#1a1a1a" stroke-width="1.5" fill="#fff"/>
<line x1="288.00" y1="1061.30" x2="393.00" y2="1061.30" stroke="#555" stroke-width="0.9"/>
<line x1="288.00" y1="1166.80" x2="393.00" y2="1166.80" stroke="#555" stroke-width="0.9"/>
<line x1="395.60" y1="1058.60" x2="395.60" y2="1169.50" stroke="#111" stroke-width="2.2"/>
<line x1="284.90" y1="1067.10" x2="301.10" y2="1067.10" stroke="#222" stroke-width="1.0"/>
<rect x="301.10" y="1067.10" width="91.80" height="92.70" rx="0" stroke="#1a1a1a" stroke-width="1.8" fill="none"/>
<line x1="294.80" y1="1058.60" x2="294.80" y2="1169.50" stroke="#333" stroke-width="1.0"/>
<line x1="300.80" y1="1058.60" x2="300.80" y2="1169.50" stroke="#333" stroke-width="1.0"/>
<path d="M294.8 1067.1 H242.4 Q239.9 1067.1 239.9 1069.6 V1157.3 Q239.9 1159.8 242.4 1159.8 H294.8 V1133.7 H300.8 V1093.2 H294.8 Z" stroke="#222" stroke-width="1.1" fill="#fff"/>
<rect x="245.3" y="1072.5" width="13.5" height="35.1" rx="6.75" fill="none" stroke="#222" stroke-width="1.1"/>
<rect x="245.3" y="1119.3" width="13.5" height="35.1" rx="6.75" fill="none" stroke="#222" stroke-width="1.1"/>
<line x1="301.10" y1="1067.10" x2="301.10" y2="1159.80" stroke="#1a1a1a" stroke-width="1.8"/>
<path d="M301.4 1067.0 V1086.6 H310.2 A10 10 0 0 0 320.2 1076.6 V1067.0" fill="none" stroke="#111" stroke-width="1.8"/>
<circle cx="309.6" cy="1075.6" r="6.9" fill="#fff" stroke="#111" stroke-width="2"/>
<path d="M310.90 1070.60 L310.90 1074.30 L314.60 1074.30 L314.60 1076.90 L310.90 1076.90 L310.90 1080.60 L308.30 1080.60 L308.30 1076.90 L304.60 1076.90 L304.60 1074.30 L308.30 1074.30 L308.30 1070.60 Z" fill="#fff" stroke="#111" stroke-width="1.1"/>
<path d="M393.4 1067.0 V1086.6 H384.6 A10 10 0 0 1 374.6 1076.6 V1067.0" fill="none" stroke="#111" stroke-width="1.8"/>
<circle cx="385.2" cy="1075.6" r="6.9" fill="#fff" stroke="#111" stroke-width="2"/>
<path d="M386.50 1070.60 L386.50 1074.30 L390.20 1074.30 L390.20 1076.90 L386.50 1076.90 L386.50 1080.60 L383.90 1080.60 L383.90 1076.90 L380.20 1076.90 L380.20 1074.30 L383.90 1074.30 L383.90 1070.60 Z" fill="#fff" stroke="#111" stroke-width="1.1"/>
<path d="M301.4 1159.8 V1140.2 H310.2 A10 10 0 0 1 320.2 1150.2 V1159.8" fill="none" stroke="#111" stroke-width="1.8"/>
<circle cx="309.6" cy="1151.2" r="6.9" fill="#fff" stroke="#111" stroke-width="2"/>
<path d="M310.90 1146.20 L310.90 1149.90 L314.60 1149.90 L314.60 1152.50 L310.90 1152.50 L310.90 1156.20 L308.30 1156.20 L308.30 1152.50 L304.60 1152.50 L304.60 1149.90 L308.30 1149.90 L308.30 1146.20 Z" fill="#fff" stroke="#111" stroke-width="1.1"/>
<path d="M393.4 1159.8 V1140.2 H384.6 A10 10 0 0 0 374.6 1150.2 V1159.8" fill="none" stroke="#111" stroke-width="1.8"/>
<circle cx="385.2" cy="1151.2" r="6.9" fill="#fff" stroke="#111" stroke-width="2"/>
<path d="M386.50 1146.20 L386.50 1149.90 L390.20 1149.90 L390.20 1152.50 L386.50 1152.50 L386.50 1156.20 L383.90 1156.20 L383.90 1152.50 L380.20 1152.50 L380.20 1149.90 L383.90 1149.90 L383.90 1146.20 Z" fill="#fff" stroke="#111" stroke-width="1.1"/>
<path d="M375 1081.8 H356.3 V1145.2 H375" stroke="#111" stroke-width="1.5" fill="none"/>
<rect x="364.70" y="1090.50" width="13.00" height="46.00" rx="0" stroke="#111" stroke-width="1.7" fill="none"/>
<path d="M356.3 1081.8 L364.7 1090.5 M356.3 1145.2 L364.7 1136.5 M377.7 1090.5 L380.6 1088 M377.7 1136.5 L380.6 1139" stroke="#222" stroke-width="1.0" fill="none"/>
<line x1="385.50" y1="1088.00" x2="385.50" y2="1139.00" stroke="#111" stroke-width="1.5"/>
<line x1="380.60" y1="1088.00" x2="392.90" y2="1088.00" stroke="#222" stroke-width="1.2"/>
<line x1="380.60" y1="1139.00" x2="392.90" y2="1139.00" stroke="#222" stroke-width="1.2"/>
<line x1="364.70" y1="1104.80" x2="377.70" y2="1104.80" stroke="#111" stroke-width="1.5"/>
<line x1="364.70" y1="1113.80" x2="377.70" y2="1113.80" stroke="#666" stroke-width="1.0"/>
<line x1="364.70" y1="1121.60" x2="377.70" y2="1121.60" stroke="#111" stroke-width="1.5"/>
<line x1="372.50" y1="1104.80" x2="372.50" y2="1121.60" stroke="#111" stroke-width="1.2"/>
<line x1="364.70" y1="1096.00" x2="377.70" y2="1096.00" stroke="#555" stroke-width="1.0"/>
<line x1="364.70" y1="1130.00" x2="377.70" y2="1130.00" stroke="#555" stroke-width="1.0"/>
<path d="M366 1092 L370 1102 L376 1092 M366 1135 L370 1125 L376 1135" stroke="#444" stroke-width="1.0" fill="none"/>
<text x="604.30" y="995.60" font-size="10.2" fill="#333" text-anchor="start" letter-spacing="1.3">±1mm</text>
<line x1="590.00" y1="996.80" x2="649.00" y2="996.80" stroke="#3a3a3a" stroke-width="0.8"/>
<path d="M590.00 996.80 L596.50 994.20 L596.50 999.40 Z" fill="#222"/>
<path d="M649.00 996.80 L642.50 994.20 L642.50 999.40 Z" fill="#222"/>
<line x1="619.50" y1="1003.00" x2="619.50" y2="1180.00" stroke="#111" stroke-width="1.0"/>
<path d="M606.8 1047.5 H591.3 Q589.8 1047.5 589.8 1046 V1013.5 Q589.8 1012 591.3 1012 H648 Q649.5 1012 649.5 1013.5 V1046 Q649.5 1047.5 648 1047.5 H632.5 V1094 Q632.5 1099 629.5 1102 L627.5 1102 V1089.5 H611 V1102 L609.5 1102 Q606.8 1099 606.8 1094 Z" stroke="#222" stroke-width="1.1" fill="#fff"/>
<line x1="619.50" y1="1003.00" x2="619.50" y2="1180.00" stroke="#111" stroke-width="1.0"/>
<rect x="593" y="1016" width="22.8" height="8.5" rx="4.25" fill="none" stroke="#222" stroke-width="1.1"/>
<rect x="623" y="1016" width="22.8" height="8.5" rx="4.25" fill="none" stroke="#222" stroke-width="1.1"/>
<rect x="611.50" y="1059.50" width="16.00" height="25.00" rx="1" stroke="#222" stroke-width="1.1" fill="none"/>
<path d="M605.6 1113.6 Q607 1110.2 612 1110.2 H626.5 Q631.5 1110.2 632.8 1113.6 Z" fill="#333" stroke="#111" stroke-width="1"/>
<rect x="584.4" y="1113.4" width="70.4" height="70.8" rx="2.5" fill="#fff" stroke="#111" stroke-width="1.5"/>
<line x1="584.40" y1="1116.20" x2="654.80" y2="1116.20" stroke="#444" stroke-width="1.6"/>
<line x1="584.40" y1="1123.80" x2="654.80" y2="1123.80" stroke="#111" stroke-width="2.0"/>
<line x1="584.80" y1="1184.00" x2="654.50" y2="1184.00" stroke="#111" stroke-width="2.2"/>
<line x1="590.00" y1="1113.40" x2="590.00" y2="1184.00" stroke="#111" stroke-width="2.0"/>
<line x1="649.20" y1="1113.40" x2="649.20" y2="1184.00" stroke="#111" stroke-width="2.0"/>
<path d="M590.0 1123.8 H601.6 V1131.8 Q601.6 1135.8 597.6 1135.8 H590.0" fill="#ddd" stroke="#111" stroke-width="1.3"/>
<path d="M592.0 1128.3 H599.6 M592.0 1131.3 H599.6 M594.3 1125.8 V1133.8 M597.3 1125.8 V1133.8" stroke="#555" stroke-width="0.7"/>
<path d="M649.2 1123.8 H637.6 V1131.8 Q637.6 1135.8 641.6 1135.8 H649.2" fill="#ddd" stroke="#111" stroke-width="1.3"/>
<path d="M639.6 1128.3 H647.2 M639.6 1131.3 H647.2 M641.9 1125.8 V1133.8 M644.9 1125.8 V1133.8" stroke="#555" stroke-width="0.7"/>
<path d="M590.0 1184.0 H601.6 V1174.6 Q601.6 1170.6 597.6 1170.6 H590.0" fill="#ddd" stroke="#111" stroke-width="1.3"/>
<path d="M592.0 1175.8 H599.6 M592.0 1178.8 H599.6 M594.3 1172.6 V1182.0 M597.3 1172.6 V1182.0" stroke="#555" stroke-width="0.7"/>
<path d="M649.2 1184.0 H637.6 V1174.6 Q637.6 1170.6 641.6 1170.6 H649.2" fill="#ddd" stroke="#111" stroke-width="1.3"/>
<path d="M639.6 1175.8 H647.2 M639.6 1178.8 H647.2 M641.9 1172.6 V1182.0 M644.9 1172.6 V1182.0" stroke="#555" stroke-width="0.7"/>
<path d="M599.2 1184 V1159 H639.6 V1184" stroke="#111" stroke-width="1.5" fill="none"/>
<rect x="604.40" y="1164.20" width="30.00" height="7.60" rx="0" stroke="#111" stroke-width="1.4" fill="none"/>
<path d="M599.2 1159 L604.4 1164.2 M639.6 1159 L634.4 1164.2" stroke="#222" stroke-width="1.0" fill="none"/>
<rect x="614.80" y="1164.20" width="9.60" height="7.60" rx="0" stroke="#444" stroke-width="1.0" fill="none"/>
<line x1="614.80" y1="1168.00" x2="624.40" y2="1168.00" stroke="#666" stroke-width="0.8"/>
<path d="M602.8 1184 V1175 Q602.8 1173 605 1173 H634 Q636 1173 636 1175 V1184" stroke="#111" stroke-width="1.2" fill="none"/>
<line x1="602.80" y1="1177.00" x2="636.00" y2="1177.00" stroke="#222" stroke-width="1.2"/>
<line x1="602.80" y1="1180.20" x2="636.00" y2="1180.20" stroke="#222" stroke-width="1.2"/>
<line x1="619.50" y1="1003.00" x2="619.50" y2="1179.00" stroke="#111" stroke-width="1.0"/>
<text x="750.30" y="995.60" font-size="10.2" fill="#333" text-anchor="start" letter-spacing="1.3">±1mm</text>
<line x1="736.50" y1="997.10" x2="795.20" y2="997.10" stroke="#3a3a3a" stroke-width="0.8"/>
<path d="M736.50 997.10 L743.00 994.50 L743.00 999.70 Z" fill="#222"/>
<path d="M795.20 997.10 L788.70 994.50 L788.70 999.70 Z" fill="#222"/>
<line x1="765.40" y1="1006.00" x2="765.40" y2="1182.00" stroke="#222" stroke-width="0.9"/>
<rect x="763.10" y="1015.40" width="4.70" height="90.20" rx="0" stroke="#333" stroke-width="1.0" fill="#f4f4f4"/>
<line x1="763.10" y1="1048.30" x2="767.80" y2="1048.30" stroke="#333" stroke-width="0.9"/>
<line x1="763.10" y1="1050.30" x2="767.80" y2="1050.30" stroke="#333" stroke-width="0.9"/>
<line x1="763.10" y1="1099.50" x2="767.80" y2="1099.50" stroke="#333" stroke-width="0.9"/>
<line x1="763.10" y1="1101.50" x2="767.80" y2="1101.50" stroke="#333" stroke-width="0.9"/>
<line x1="765.40" y1="1006.00" x2="765.40" y2="1182.00" stroke="#222" stroke-width="0.9"/>
<path d="M723.5 1126.6 H778 M723.5 1186.4 H778" stroke="#222" stroke-width="1.1" fill="none"/>
<line x1="740.30" y1="1126.10" x2="740.30" y2="1186.60" stroke="#333" stroke-width="1.0"/>
<rect x="777.6" y="1125.8" width="4" height="12.5" rx="2" fill="#fff" stroke="#111" stroke-width="1.3"/>
<rect x="777.6" y="1173.5" width="4" height="13" rx="2" fill="#fff" stroke="#111" stroke-width="1.3"/>
<line x1="781.40" y1="1130.00" x2="781.40" y2="1183.00" stroke="#222" stroke-width="1.1"/>
<path d="M703.5 1127 V1120 Q703.5 1116.8 707 1116.8 H719.5 Q723.5 1116.8 723.5 1121 V1186.6 H712" stroke="#1a1a1a" stroke-width="1.4" fill="none"/>
<line x1="714.20" y1="1118.00" x2="714.20" y2="1186.00" stroke="#333" stroke-width="0.9"/>
<line x1="717.50" y1="1118.00" x2="717.50" y2="1186.00" stroke="#333" stroke-width="0.9"/>
<line x1="703.00" y1="1127.50" x2="723.50" y2="1127.50" stroke="#333" stroke-width="0.9"/>
<path d="M714 1186.6 H723.5" stroke="#222" stroke-width="2" fill="none"/>
<path d="M715.3 1092 C708 1102 702 1114 701.5 1126 C701.5 1142 713 1152 712.8 1168 C712.5 1182 707 1195 703.2 1207.6" stroke="#222" stroke-width="1.0" fill="none"/>
<!--/GEN--></g>
</svg>
</body></html>
